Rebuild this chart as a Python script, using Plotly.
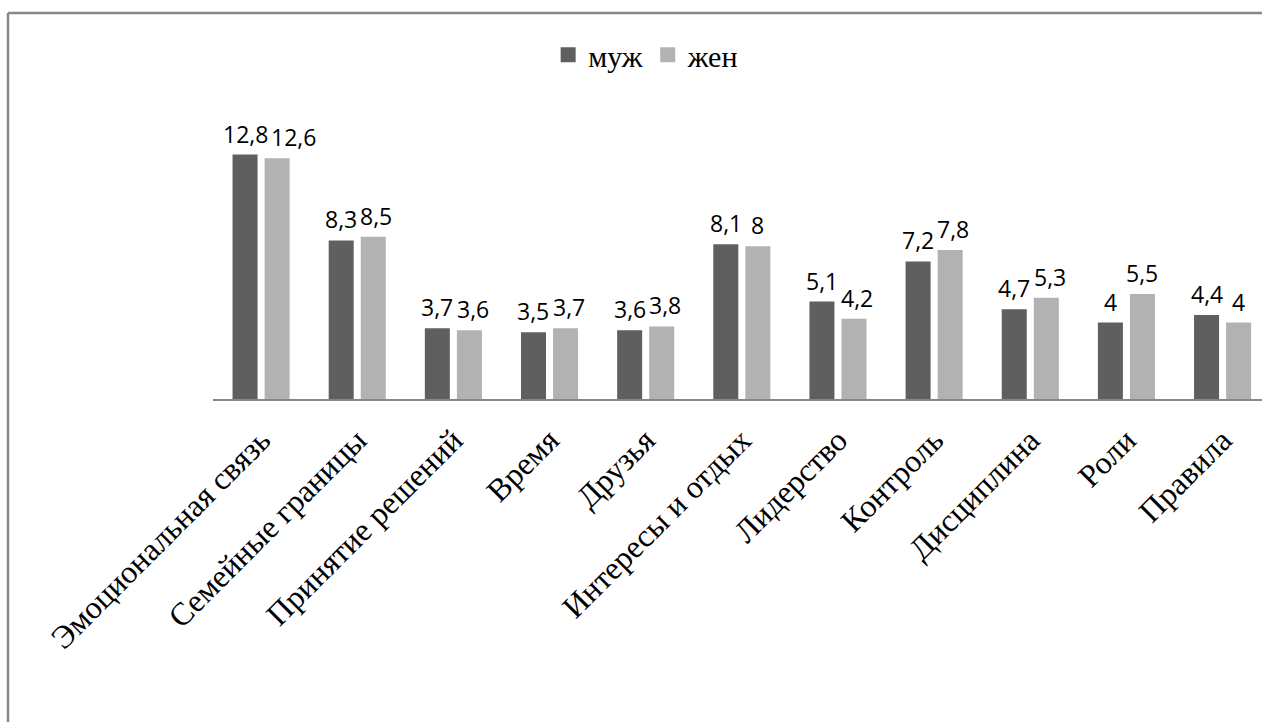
import plotly.graph_objects as go

categories = ["Эмоциональная связь", "Семейные границы", "Принятие решений", "Время",
              "Друзья", "Интересы и отдых", "Лидерство", "Контроль", "Дисциплина",
              "Роли", "Правила"]
muzh = [12.8, 8.3, 3.7, 3.5, 3.6, 8.1, 5.1, 7.2, 4.7, 4.0, 4.4]
zhen = [12.6, 8.5, 3.6, 3.7, 3.8, 8.0, 4.2, 7.8, 5.3, 5.5, 4.0]
series_names = ["муж", "жен"]
colors = ["#5f5f5f", "#b2b2b2"]

W, H = 1262, 722
ML, MR, MT, MB = 213, 0, 112, 323
PW = W - ML - MR
PH = H - MT - MB
CAT_PX = 96.15
LABEL_SIZE = 23


def fmt(v):
    return f"{v:g}".replace(".", ",")


def text_w(s):
    return sum(0.26 if c == "," else 0.572 for c in s) * LABEL_SIZE


fig = go.Figure()
for name, vals, col in zip(series_names, [muzh, zhen], colors):
    fig.add_trace(go.Bar(
        x=categories, y=vals, name=name, showlegend=False,
        marker=dict(color=col, line=dict(width=0)),
    ))
    # legend entry with a larger square swatch
    fig.add_trace(go.Scatter(
        x=[None], y=[None], name=name, mode="markers",
        marker=dict(symbol="square", size=15, color=col),
    ))

# data labels, nudging the second label right when the pair would collide
slot = CAT_PX * (1 - 0.333) / 2
for cat, a, b in zip(categories, muzh, zhen):
    ta, tb = fmt(a), fmt(b)
    push = max(0.0, (text_w(ta) + text_w(tb)) / 2 + 3 - slot)
    for txt, val, dx in ((ta, a, -slot / 2), (tb, b, slot / 2 + push)):
        fig.add_annotation(x=cat, y=val, text=txt, xref="x", yref="y",
                           showarrow=False, xanchor="center", yanchor="bottom",
                           xshift=dx, yshift=3,
                           font=dict(family="Open Sans", size=LABEL_SIZE, color="#000000"))

# chart-area border (left and top edges visible)
bx = (8 - ML) / PW
by = (H - MB - 13) / PH
fig.add_shape(type="line", xref="paper", yref="paper", x0=bx, x1=bx, y0=by, y1=-5,
              line=dict(color="#878787", width=2.5))
fig.add_shape(type="line", xref="paper", yref="paper", x0=bx, x1=1.2, y0=by, y1=by,
              line=dict(color="#878787", width=2.5))

fig.update_layout(
    width=W, height=H,
    margin=dict(l=ML, r=MR, t=MT, b=MB, autoexpand=False),
    plot_bgcolor="white", paper_bgcolor="white",
    barmode="group", bargap=0.333, bargroupgap=0.22,
    showlegend=True,
    legend=dict(orientation="h", xref="container", yref="container",
                x=0.512, y=0.924, xanchor="center", yanchor="middle",
                font=dict(family="Liberation Serif", size=30, color="#000000"),
                itemwidth=30, traceorder="normal"),
    xaxis=dict(range=[-0.5, -0.5 + PW / CAT_PX], showline=True, linecolor="#868686",
               linewidth=1.5, ticks="", showgrid=False, tickangle=-45, automargin=False,
               ticklabelstandoff=8,
               tickfont=dict(family="Liberation Serif", size=32, color="#000000")),
    yaxis=dict(range=[0, PH / 19.1], visible=False, showgrid=False, zeroline=False,
               automargin=False),
)

fig.write_html("out.html")
